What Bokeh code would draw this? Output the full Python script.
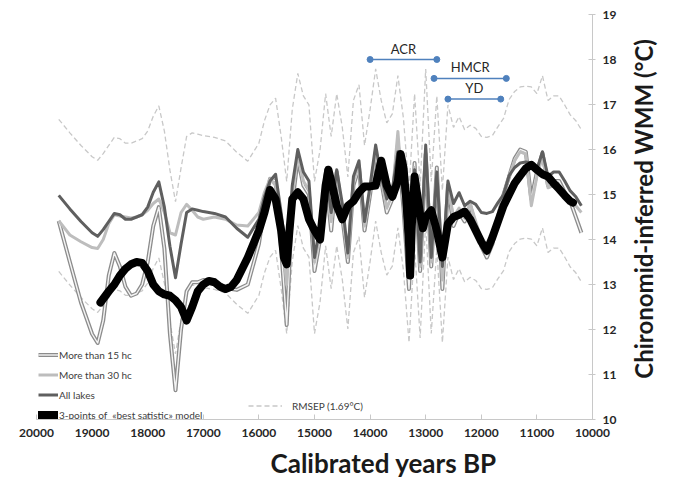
import math
from bokeh.plotting import figure
from bokeh.models import Range1d, FixedTicker, Legend, LegendItem, Title, ColumnDataSource
from bokeh.embed import file_html
from bokeh.resources import INLINE
from bokeh.core.properties import value

# ---------------- data ----------------
years = [19600, 19400, 19200, 19000, 18900, 18800, 18700, 18600, 18500, 18400,
         18300, 18200, 18100, 18000, 17900, 17800, 17700, 17600, 17500, 17400,
         17300, 17200, 17100, 17000, 16800, 16600, 16400, 16200, 16000, 15900,
         15800,
         15700, 15600, 15500, 15400, 15300, 15200, 15100, 15000, 14900, 14800,
         14700, 14600, 14500, 14400, 14300, 14200, 14100, 14000, 13900, 13800,
         13700, 13600, 13500, 13400, 13300, 13200, 13100, 13000, 12900, 12800,
         12700, 12600, 12500,
         12400, 12300, 12200, 12100, 12000, 11900, 11800, 11700, 11600, 11500,
         11400, 11300, 11200, 11100, 11000, 10900, 10800, 10700, 10600, 10500,
         10400, 10300, 10200]

all_lakes = [14.98, 14.68, 14.40, 14.15, 14.07, 14.22, 14.40, 14.58, 14.55, 14.45,
             14.45, 14.50, 14.55, 14.72, 15.05, 15.28, 14.72, 13.85, 13.15, 13.90,
             14.60, 14.68, 14.65, 14.62, 14.58, 14.50, 14.25, 14.05, 14.45, 14.95,
             15.30,
             15.45, 14.60, 13.60, 15.20, 16.00, 15.50, 15.30, 13.60, 14.30, 15.55,
             14.60, 15.55, 14.80, 13.70, 15.40, 15.75, 14.40, 15.20, 16.10, 15.40,
             14.90, 15.10, 15.95, 15.00, 13.40, 15.55, 13.50, 16.10, 13.60, 15.50,
             13.40, 15.30, 14.80,
             15.04, 14.75, 14.85, 14.78, 14.60, 14.58, 14.62, 14.82, 15.00, 15.42,
             15.60, 15.70, 15.72, 15.70, 15.55, 15.95, 15.40, 15.50, 15.50, 15.30,
             15.08, 14.95, 14.75]

more_15 = [14.41, 13.50, 12.60, 11.90, 11.70, 12.20, 13.20, 13.70, 13.40, 12.95,
           12.75, 12.80, 13.00, 13.50, 14.30, 14.72, 13.80, 11.90, 10.65, 12.00,
           12.85, 13.05, 13.05, 13.10, 13.10, 12.92, 12.88, 13.00, 13.90, 14.70,
           15.35,
           15.30, 13.80, 12.10, 14.80, 15.80, 15.20, 15.00, 13.30, 14.00, 15.40,
           14.20, 15.50, 14.50, 13.50, 15.20, 15.60, 14.20, 15.00, 15.90, 15.30,
           14.60, 14.90, 16.10, 14.70, 12.90, 15.70, 13.30, 15.90, 13.40, 15.60,
           12.90, 15.20, 14.30,
           14.60, 14.40, 14.75, 14.30, 13.85, 13.60, 13.90, 14.50, 15.00, 15.40,
           15.80, 16.00, 15.95, 14.90, 15.50, 15.92, 15.20, 15.30, 15.30, 15.05,
           14.85, 14.50, 14.15]

more_30 = [14.42, 14.10, 13.95, 13.82, 13.80, 14.00, 14.35, 14.55, 14.52, 14.50,
           14.48, 14.50, 14.55, 14.65, 14.80, 14.90, 14.60, 14.15, 14.10, 14.60,
           14.78, 14.65, 14.50, 14.45, 14.50, 14.45, 14.32, 14.30, 14.60, 15.05,
           15.35,
           15.20, 14.20, 13.00, 15.00, 15.90, 15.30, 15.10, 13.50, 14.10, 15.50,
           14.40, 15.50, 14.60, 13.60, 15.30, 15.65, 14.30, 15.10, 16.00, 15.35,
           14.70, 15.00, 16.40, 14.80, 13.20, 15.60, 13.40, 16.00, 13.50, 15.50,
           13.10, 15.20, 14.50,
           14.70, 14.50, 14.80, 14.40, 14.00, 13.80, 14.00, 14.55, 15.00, 15.40,
           15.75, 15.95, 15.90, 14.75, 15.40, 15.85, 15.15, 15.20, 15.20, 15.00,
           14.90, 14.75, 14.60]

years_best = [18850, 18700, 18600, 18500, 18400, 18300, 18200, 18100, 18000, 17900,
              17800, 17700, 17600, 17500, 17400, 17300, 17200, 17100, 17000, 16900,
              16800, 16700, 16600, 16500, 16400, 16300, 16200, 16100, 16000, 15900,
              15800, 15700, 15600, 15550, 15500, 15450, 15400, 15300, 15200, 15100,
              15000, 14900, 14800, 14750, 14700, 14600, 14500, 14400, 14300, 14200,
              14100, 14000, 13900, 13800, 13700, 13600, 13500, 13450, 13400, 13350,
              13300, 13280, 13250, 13200, 13100, 13050, 13000, 12900, 12800, 12700,
              12600, 12500, 12400, 12300, 12200, 12100, 12000, 11900, 11800, 11700,
              11600, 11500, 11400, 11300, 11200, 11100, 11000, 10900, 10800, 10700,
              10600, 10500, 10400, 10350]

best_model = [12.60, 12.85, 13.00, 13.20, 13.35, 13.45, 13.50, 13.48, 13.30, 13.00,
              12.85, 12.78, 12.75, 12.65, 12.50, 12.20, 12.50, 12.85, 13.00, 13.08,
              13.05, 12.95, 12.90, 12.95, 13.10, 13.35, 13.60, 13.90, 14.20, 14.60,
              15.10, 14.90, 14.20, 13.60, 13.45, 14.20, 14.90, 15.05, 14.90, 14.45,
              14.20, 14.00, 15.20, 15.55, 15.30, 14.75, 14.45, 14.75, 14.85, 15.05,
              15.18, 15.18, 15.20, 15.75, 15.20, 14.95, 15.30, 15.90, 15.60, 14.90,
              13.90, 13.20, 14.30, 15.40, 14.55, 14.25, 14.50, 14.65, 14.20, 13.60,
              14.35, 14.50, 14.55, 14.62, 14.45, 14.20, 13.95, 13.75, 14.05, 14.40,
              14.75, 15.00, 15.25, 15.42, 15.58, 15.66, 15.55, 15.45, 15.40, 15.25,
              15.12, 14.98, 14.85, 14.82]

RMSEP = 1.69

x_ticks = [20000, 19000, 18000, 17000, 16000, 15000, 14000, 13000, 12000, 11000, 10000]
y_ticks = [10, 11, 12, 13, 14, 15, 16, 17, 18, 19]

periods = ["ACR", "HMCR", "YD"]
period_start = [14000, 12850, 12600]
period_end = [12800, 11550, 11650]
period_level = [18.0, 17.58, 17.12]

# ---------------- figure ----------------
FONT = "Lato"
p = figure(width=676, height=483, output_backend="svg", toolbar_location=None,
           x_range=Range1d(20000, 10000), y_range=Range1d(10, 19),
           y_axis_location="right",
           min_border_left=36, min_border_right=84, min_border_top=14, min_border_bottom=62)
p.outline_line_color = None
p.grid.visible = False
p.background_fill_color = "white"
p.border_fill_color = "white"

xa = p.xaxis[0]
xa.ticker = FixedTicker(ticks=x_ticks)
xa.axis_line_color = "#c8c8c8"
xa.major_tick_line_color = "#c8c8c8"
xa.major_tick_in = 5
xa.major_tick_out = 0
xa.minor_tick_line_color = None
xa.major_label_text_font = FONT
xa.major_label_text_font_style = "bold"
xa.major_label_text_font_size = "12px"
xa.major_label_text_color = "#262626"
xa.major_label_standoff = 9

ya = p.yaxis[0]
ya.ticker = FixedTicker(ticks=y_ticks)
ya.axis_line_color = "#c8c8c8"
ya.major_tick_line_color = "#c8c8c8"
ya.major_tick_in = 4
ya.major_tick_out = 3
ya.minor_tick_line_color = None
ya.major_label_text_font = FONT
ya.major_label_text_font_style = "bold"
ya.major_label_text_font_size = "12px"
ya.major_label_text_color = "#262626"
ya.major_label_standoff = 7
# the title reads bottom-to-top on the right side; it starts a little above the foot of the axis
ya.axis_label = "\u00a0" * 7 + "Chironomid-inferred WMM (\u00b0C)"
ya.axis_label_text_font = FONT
ya.axis_label_text_font_style = "bold"
ya.axis_label_text_font_size = "24px"
ya.axis_label_text_color = "#1a1a1a"
ya.axis_label_standoff = 24
try:
    ya.axis_label_orientation = math.pi / 2
    ya.axis_label_align = "start"
except Exception:
    pass

# RMSEP bands around "All lakes"
upper = [v + RMSEP for v in all_lakes]
lower = [v - RMSEP for v in all_lakes]
band_kw = dict(line_color="#c8c8c8", line_width=1.3, line_dash="5 3")
r_up = p.line(years, upper, **band_kw)
r_lo = p.line(years, lower, **band_kw)

src = ColumnDataSource(dict(x=years, a=all_lakes, m15=more_15, m30=more_30))
r15o = p.line("x", "m15", source=src, line_color="#8c8c8c", line_width=4, line_join="round")
r15i = p.line("x", "m15", source=src, line_color="#f4f4f4", line_width=1.4, line_join="round")
r30 = p.line("x", "m30", source=src, line_color="#bdbdbd", line_width=3, line_join="round")
rall = p.line("x", "a", source=src, line_color="#5f5f5f", line_width=3, line_join="round")
rbest = p.line(years_best, best_model, line_color="black", line_width=8,
               line_join="round", line_cap="round")

# period bars
psrc = ColumnDataSource(dict(x0=period_start, x1=period_end, y=period_level, name=periods,
                             xm=[(a + b) / 2 for a, b in zip(period_start, period_end)]))
p.segment(x0="x0", y0="y", x1="x1", y1="y", source=psrc, line_color="#4f81bd", line_width=1.5)
p.scatter(x="x0", y="y", source=psrc, size=6, color="#4f81bd")
p.scatter(x="x1", y="y", source=psrc, size=6, color="#4f81bd")
p.text(x="xm", y="y", text="name", source=psrc, text_align="center", text_baseline="bottom",
       y_offset=-3, text_font=value(FONT), text_font_size="13px", text_color="#262626")

# legends
leg = Legend(items=[
    LegendItem(label="More than 15 hc", renderers=[r15o, r15i]),
    LegendItem(label="More than 30 hc", renderers=[r30]),
    LegendItem(label="All lakes", renderers=[rall]),
    LegendItem(label="3-points of  \u00abbest satistic\u00bb model", renderers=[rbest]),
], location=(2, -2), padding=0, margin=0, spacing=7, glyph_width=20, glyph_height=13,
    label_height=13, label_standoff=1, label_text_font=FONT, label_text_font_size="10px",
    label_text_color="#404040", background_fill_alpha=0, border_line_alpha=0)
p.add_layout(leg)

leg2 = Legend(items=[LegendItem(label="RMSEP (1.69\u00b0C)", renderers=[r_up])],
              location=(212, 7), padding=0, margin=0, glyph_width=34, glyph_height=13,
              label_height=13, label_standoff=10, label_text_font=FONT,
              label_text_font_size="10px", label_text_color="#404040",
              background_fill_alpha=0, border_line_alpha=0)
p.add_layout(leg2)

# x axis title (placed below the axis, shifted right as in the reference)
p.add_layout(Title(text="Calibrated years BP", align="left", offset=234,
                   text_font=FONT, text_font_style="bold", text_font_size="26px",
                   text_color="#1a1a1a"), "below")

open("out.html", "w").write(file_html(p, INLINE))
